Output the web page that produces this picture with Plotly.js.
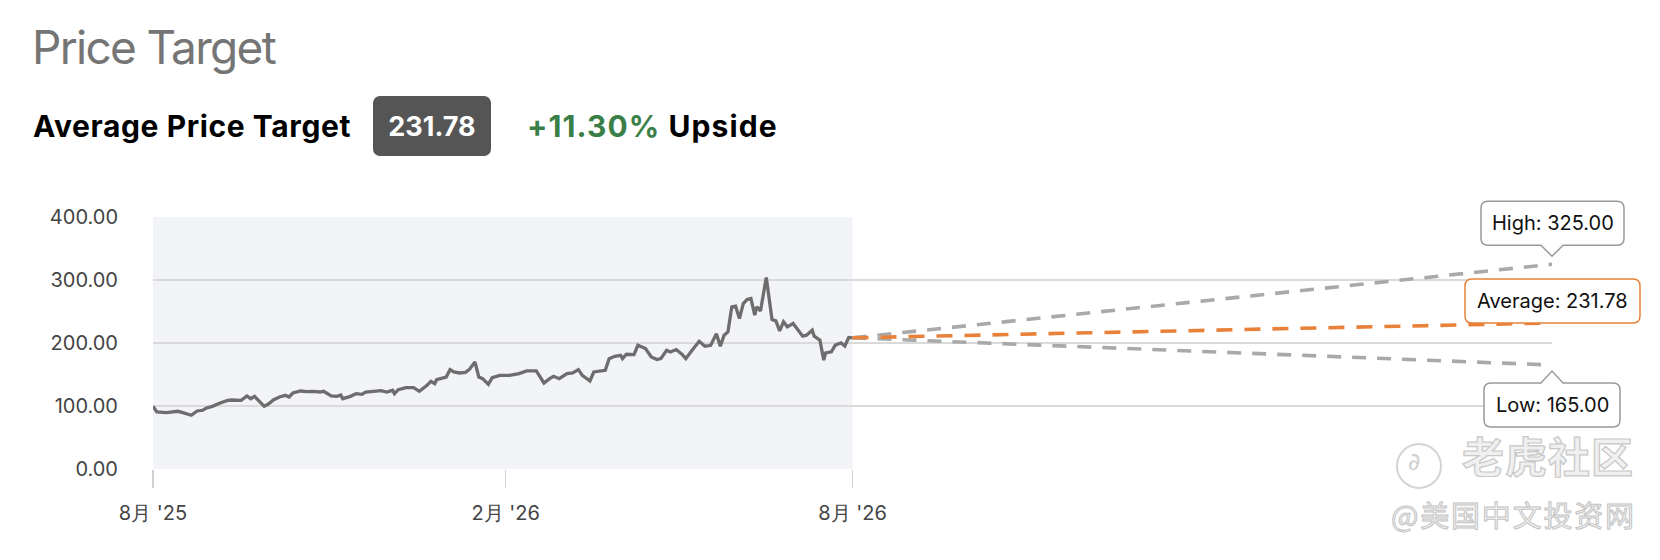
<!DOCTYPE html>
<html>
<head>
<meta charset="utf-8">
<script src="https://cdn.plot.ly/plotly-3.0.1.min.js"></script>
<style>
  html, body { margin:0; padding:0; background:#fff; }
  #wrap { position:relative; width:1660px; height:560px; overflow:hidden; font-family: Inter, "Noto Sans", sans-serif; }
  #chart { position:absolute; left:0; top:0; width:1660px; height:560px; }
  .abs { position:absolute; white-space:nowrap; line-height:1; }
  #title { left:32px; top:24px; font-size:46px; color:#757575; letter-spacing:-1.7px; }
  #avgLabel { left:33px; top:111px; font-size:30px; font-weight:700; color:#000; letter-spacing:0.6px; }
  #avgBox { left:373px; top:96px; width:118px; height:60px; background:#555; border-radius:7px; color:#fff; font-size:27px; font-weight:700; display:flex; align-items:center; justify-content:center; letter-spacing:0px; }
  #upside { left:527px; top:111px; font-size:30px; font-weight:700; letter-spacing:1.1px; }
  #upside .g { color:#3b7f48; }
  #wm1 { left:1462px; top:434px; font-family:"Noto Sans CJK SC"; font-size:42px; font-weight:700; color:#f0f0f0; -webkit-text-stroke:1.2px #c8c8c8; letter-spacing:1px; }
  #wm2 { left:1391px; top:500px; font-family:"Noto Sans CJK SC"; font-size:29px; color:#f2f2f2; -webkit-text-stroke:1px #c4c4c4; letter-spacing:1.8px; }
  #wmlogo { left:1396px; top:443px; width:42px; height:42px; border:2px solid #d4d4d4; border-radius:50%; }
  #wmlogo2 { left:1408px; top:450px; font-family:"DejaVu Sans"; font-size:24px; color:#d0d0d0; font-style:italic; }
</style>
</head>
<body>
<div id="wrap">
  <div id="chart"></div>
  <div class="abs" id="title">Price Target</div>
  <div class="abs" id="avgLabel">Average Price Target</div>
  <div class="abs" id="avgBox">231.78</div>
  <div class="abs" id="upside"><span class="g">+11.30%</span> Upside</div>
  <div class="abs" id="wmlogo"></div>
  <div class="abs" id="wmlogo2">∂</div>
  <div class="abs" id="wm1">老虎社区</div>
  <div class="abs" id="wm2">@美国中文投资网</div>
</div>
<script>
// ---- data ----
const priceDates = [
 "2025-08-01","2025-08-03","2025-08-08","2025-08-14","2025-08-17","2025-08-21","2025-08-24","2025-08-27","2025-08-29","2025-09-01",
 "2025-09-05","2025-09-09","2025-09-11","2025-09-16","2025-09-19","2025-09-21","2025-09-23","2025-09-28","2025-09-30","2025-10-03",
 "2025-10-06","2025-10-09","2025-10-11","2025-10-13","2025-10-17","2025-10-20","2025-10-24","2025-10-27","2025-10-29","2025-11-02",
 "2025-11-05","2025-11-07","2025-11-08","2025-11-12","2025-11-15","2025-11-18","2025-11-20","2025-11-24","2025-11-28","2025-12-01",
 "2025-12-04","2025-12-05","2025-12-07","2025-12-11","2025-12-15","2025-12-18","2025-12-22","2025-12-24","2025-12-26","2025-12-27",
 "2025-12-30","2026-01-01","2026-01-03","2026-01-05","2026-01-08","2026-01-11","2026-01-13","2026-01-16","2026-01-18","2026-01-20",
 "2026-01-23","2026-01-25","2026-01-29","2026-02-03","2026-02-08","2026-02-12","2026-02-17","2026-02-19","2026-02-21","2026-02-24",
 "2026-02-26","2026-03-01","2026-03-05","2026-03-08","2026-03-11","2026-03-13","2026-03-17","2026-03-19","2026-03-23","2026-03-25",
 "2026-03-27","2026-03-30","2026-04-02","2026-04-03","2026-04-05","2026-04-09","2026-04-11","2026-04-12","2026-04-15","2026-04-18",
 "2026-04-21","2026-04-23","2026-04-26","2026-04-28","2026-05-01","2026-05-04","2026-05-06","2026-05-09","2026-05-13","2026-05-16",
 "2026-05-19","2026-05-22","2026-05-24","2026-05-26","2026-05-28","2026-05-30","2026-06-01","2026-06-03","2026-06-05","2026-06-07",
 "2026-06-09","2026-06-11","2026-06-12","2026-06-14","2026-06-15","2026-06-17","2026-06-20","2026-06-22","2026-06-24","2026-06-26",
 "2026-06-28","2026-07-01","2026-07-03","2026-07-06","2026-07-08","2026-07-11","2026-07-12","2026-07-15","2026-07-17","2026-07-18",
 "2026-07-21","2026-07-23","2026-07-26","2026-07-28","2026-07-30","2026-08-01"
];
const priceValues = [
 99.5,90.5,89.5,91.6,89.0,85.3,92.1,93.2,96.9,99.5,
 104.8,109.0,109.5,109.0,115.9,111.6,115.3,99.5,102.7,110.1,
 114.3,116.9,114.3,120.6,123.8,122.8,123.3,122.2,123.3,115.9,
 115.3,117.5,111.6,115.3,119.5,118.5,122.2,123.3,124.3,122.2,
 124.9,119.5,125.9,129.1,129.1,123.3,132.8,139.2,135.4,141.8,
 144.9,146.0,157.7,154.0,152.4,153.4,157.7,169.9,146.0,143.4,
 134.4,144.9,148.7,148.7,151.4,155.6,155.6,147.1,136.5,143.4,
 147.1,143.4,151.4,152.4,157.7,148.7,139.7,154.0,155.6,156.7,
 175.2,178.9,180.5,175.2,182.1,181.6,196.4,194.8,191.1,177.9,
 173.7,175.2,188.5,185.8,189.6,182.2,175.2,187.4,202.7,194.8,
 196.4,214.9,194.8,212.3,217.6,257.3,258.4,238.8,262.6,269.0,
 270.6,244.1,257.3,251.0,267.9,303.9,237.3,235.2,219.3,233.6,
 225.7,231.0,223.0,210.9,212.5,220.4,210.9,204.6,172.8,184.4,
 186.0,196.6,200.3,195.0,208.8,208.25
];
const targetDate = "2027-08-01";
const targetNames = ["High", "Average", "Low"];
const targetValues = [325.00, 231.78, 165.00];
const yTicks = [0, 100, 200, 300, 400];
const xTickVals = ["2025-08-01", "2026-02-01", "2026-08-01"];
const xTickText = ["8月 '25", "2月 '26", "8月 '26"];

// ---- styling ----
const yMin = 0, yMax = 400;
const xStart = priceDates[0], xEnd = targetDate;
const lastDate = priceDates[priceDates.length - 1];
const lastPrice = priceValues[priceValues.length - 1];
const targetStyle = {
  High:    {color:"#a9a9a9", border:"#9a9a9a", box:[-71, 72, -63, -19], tip:-8},
  Average: {color:"#e8823a", border:"#e8823a", box:[-87, 88, -44, 0],  tip:null},
  Low:     {color:"#a9a9a9", border:"#9a9a9a", box:[-68, 68, 18, 62],   tip:6}
};

function calloutPath(b, tip) {
  const [L, R, T, B] = b, r = 7, hw = 11;
  const p = (x, y) => x + "," + (-y);
  let d = "M" + p(L + r, T);
  if (tip !== null && tip < T) d += " L" + p(-hw, T) + " L" + p(0, tip) + " L" + p(hw, T);
  d += " L" + p(R - r, T) + " Q" + p(R, T) + " " + p(R, T + r);
  d += " L" + p(R, B - r) + " Q" + p(R, B) + " " + p(R - r, B);
  if (tip !== null && tip > B) d += " L" + p(hw, B) + " L" + p(0, tip) + " L" + p(-hw, B);
  d += " L" + p(L + r, B) + " Q" + p(L, B) + " " + p(L, B - r);
  d += " L" + p(L, T + r) + " Q" + p(L, T) + " " + p(L + r, T) + " Z";
  return d;
}
const tms = s => new Date(s + "T00:00:00Z").getTime();
const xFrac = d => (tms(d) - tms(xStart)) / (tms(xEnd) - tms(xStart));
const yFrac = v => (v - yMin) / (yMax - yMin);

const traces = [{
  x: priceDates, y: priceValues, type: "scatter", mode: "lines",
  line: {color: "#6d6d6d", width: 3.3}, hoverinfo: "skip"
}];
["High", "Low", "Average"].forEach(name => {
  const v = targetValues[targetNames.indexOf(name)];
  traces.push({
    x: [lastDate, targetDate], y: [lastPrice, v], type: "scatter", mode: "lines",
    line: {color: targetStyle[name].color, width: 3.6, dash: name === "Average" ? "16px,12px" : "14px,11px"},
    hoverinfo: "skip", cliponaxis: false
  });
});

const shapes = [{
  type: "rect", xref: "x", yref: "y", x0: xStart, x1: lastDate, y0: yMin, y1: yMax,
  fillcolor: "#f3f4f8", line: {width: 0}, layer: "below"
}];
const annotations = [];
targetNames.forEach((name, i) => {
  const s = targetStyle[name], v = targetValues[i];
  shapes.push({
    type: "path", xref: "paper", yref: "paper", xsizemode: "pixel", ysizemode: "pixel",
    xanchor: xFrac(targetDate), yanchor: yFrac(v), path: calloutPath(s.box, s.tip),
    fillcolor: "#ffffff", line: {color: s.border, width: 1.5}, layer: "above"
  });
  annotations.push({
    x: targetDate, y: v, xref: "x", yref: "y", showarrow: false,
    text: name + ": " + v.toFixed(2),
    xshift: (s.box[0] + s.box[1]) / 2, yshift: -(s.box[2] + s.box[3]) / 2,
    font: {family: "Inter, sans-serif", size: 20, color: "#111"}
  });
});

const layout = {
  width: 1660, height: 560,
  margin: {l: 153, r: 108, t: 217, b: 91, pad: 0},
  paper_bgcolor: "#ffffff", plot_bgcolor: "#ffffff",
  showlegend: false,
  font: {family: "Inter, sans-serif", size: 20, color: "#444"},
  xaxis: {
    type: "date", range: [xStart, xEnd],
    tickvals: xTickVals, ticktext: xTickText,
    showgrid: false, zeroline: false, showline: false,
    ticks: "outside", ticklen: 18, tickwidth: 1.5, tickcolor: "#d0d0d0",
    ticklabelstandoff: 8,
    tickfont: {family: "Inter, sans-serif", size: 20, color: "#444"}
  },
  yaxis: {
    range: [yMin, yMax], tickvals: yTicks, tickformat: ".2f",
    showgrid: true, gridcolor: "#dadada", gridwidth: 1.5,
    zeroline: false, showline: false,
    ticks: "outside", ticklen: 30, tickcolor: "rgba(0,0,0,0)",
    tickfont: {family: "Inter, sans-serif", size: 20, color: "#444"}
  },
  shapes: shapes, annotations: annotations
};

Plotly.newPlot("chart", traces, layout, {staticPlot: true, displayModeBar: false});
</script>
</body>
</html>
